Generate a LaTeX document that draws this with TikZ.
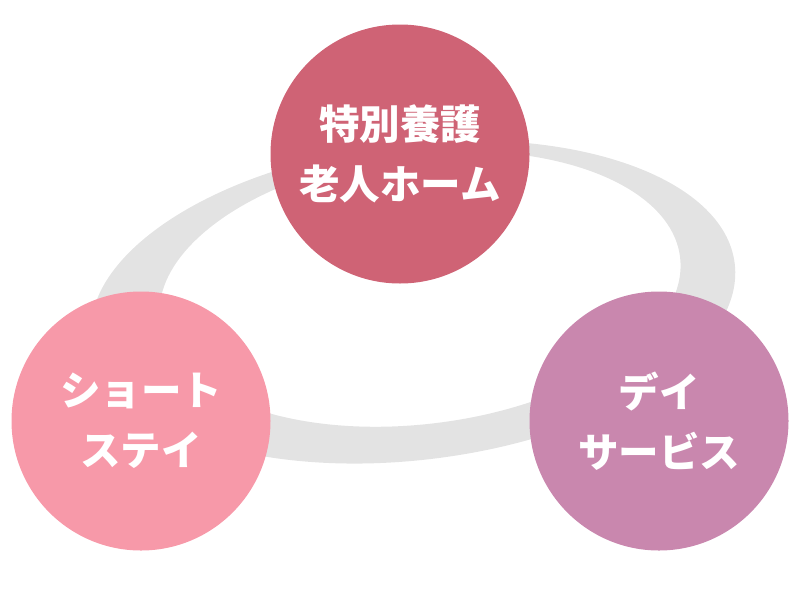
\documentclass[tikz,border=0pt]{standalone}
\usepackage{fontspec}
\newfontfamily\jpfont{Noto Sans CJK JP}
\definecolor{ringgray}{RGB}{227,227,227}
\definecolor{topc}{RGB}{207,99,117}
\definecolor{leftc}{RGB}{247,153,169}
\definecolor{rightc}{RGB}{201,135,174}
\tikzset{
  bubble/.style={circle, minimum size=259pt, inner sep=0pt, draw=none,
    text=white, align=center,
    font=\jpfont\bfseries\fontsize{40.5}{60}\selectfont},
}
\begin{document}
\begin{tikzpicture}[x=1pt,y=-1pt]
\useasboundingbox (0,0) rectangle (800,600);
% ring
\fill[ringgray, even odd rule]
  (413,302) ellipse [x radius=324, y radius=158, rotate=6.8]
  (420,289) ellipse [x radius=262, y radius=135, rotate=7.0];
% circles
\node[bubble, fill=topc]   (home)  at (400,154) {特別養護\\老人ホーム};
\node[bubble, fill=leftc]  (short) at (141,421) {ショート\\ステイ};
\node[bubble, fill=rightc] (day)   at (659,421) {デイ\\サービス};
\end{tikzpicture}
\end{document}
